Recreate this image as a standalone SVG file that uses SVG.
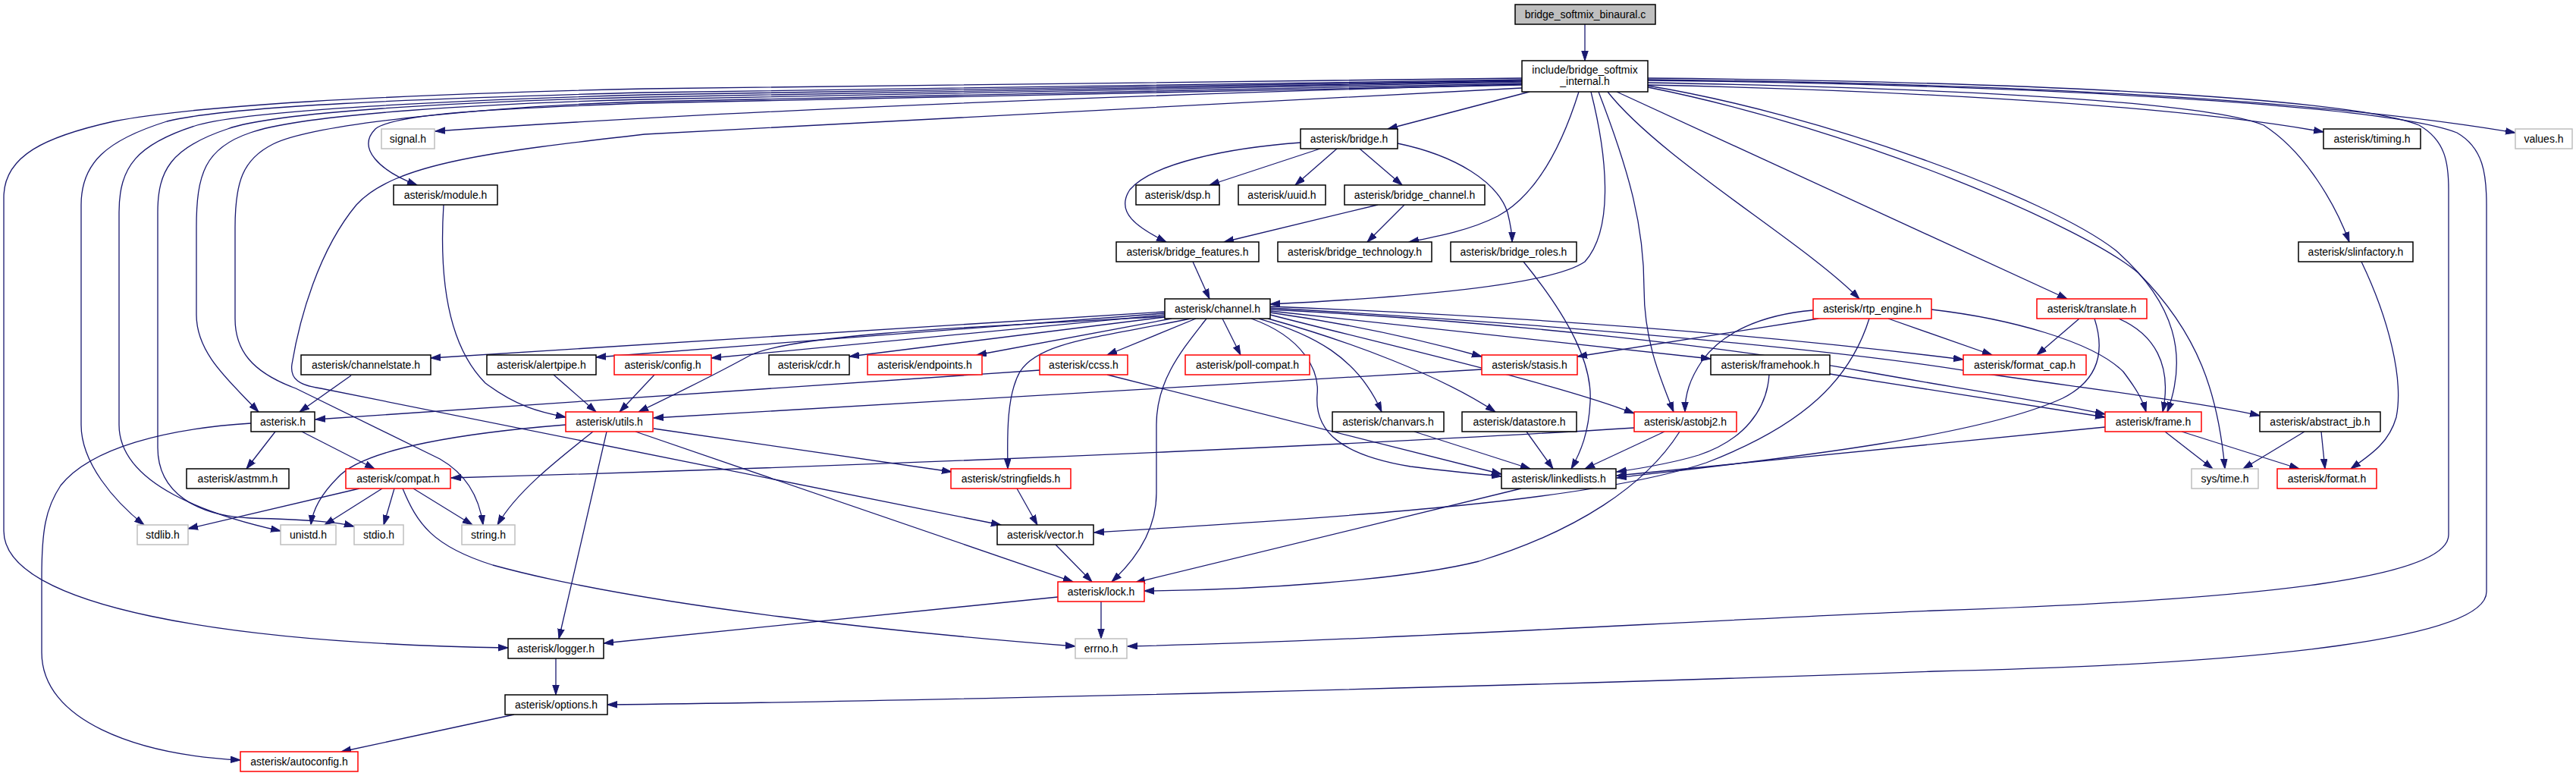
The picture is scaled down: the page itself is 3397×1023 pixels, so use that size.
<svg xmlns="http://www.w3.org/2000/svg" width="3397" height="1023" viewBox="0 0 3397 1023">
<defs>
<style>
.n rect{fill:#fff;stroke-width:1.5}
.blk rect{stroke:#000}
.red rect{stroke:#ff0000}
.gry rect{stroke:#bfbfbf}
.src rect{fill:#bfbfbf;stroke:#000}
text{font-family:"Liberation Sans",Arial,sans-serif;font-size:14px;fill:#000;text-anchor:middle}
.e path{fill:none;stroke:#191970;stroke-width:1.3;marker-end:url(#ah)}
</style>
<marker id="ah" markerWidth="14" markerHeight="10" refX="13" refY="4.75" orient="auto" markerUnits="userSpaceOnUse">
<path d="M0,0.5 L13,4.75 L0,9 z" fill="#191970" stroke="#191970" stroke-width="1"/>
</marker>
</defs>
<rect width="3397" height="1023" fill="#fff"/>
<g id="edges" class="e">
<path d="M2090,32 L2090,80"/>
<path d="M2017,121 L1830,170"/>
<path d="M2082,121 C2062,185 2030,255 1975,285 C1940,303 1895,312 1858,319"/>
<path d="M2098,121 C2118,200 2130,300 2090,345 C2040,380 1800,395 1675,401"/>
<path d="M2108,121 C2150,230 2168,300 2168,380 C2168,450 2190,500 2207,543"/>
<path d="M2120,121 C2190,210 2380,320 2452,394"/>
<path d="M2132,121 L2726,394"/>
<path d="M2173,112 C2450,118 2850,135 3064,174"/>
<path d="M2173,105 C2650,110 3050,130 3317,175"/>
<path d="M2173,109 C2500,115 2900,130 2985,165 C3040,200 3080,270 3098,319"/>
<path d="M2173,103 C2700,108 3100,130 3190,165 C3225,185 3229,215 3229,250 L3229,705 C3229,760 3000,790 2550,805 C2200,820 1800,845 1487,852"/>
<path d="M2173,106 C2700,112 3150,140 3240,175 C3275,195 3279,230 3279,270 L3279,780 C3279,840 3000,875 2550,885 C2000,905 1200,925 801,929"/>
<path d="M2173,113 C2400,150 2700,260 2790,330 C2870,400 2885,470 2858,543"/>
<path d="M2173,115 C2450,170 2750,300 2820,360 C2900,440 2925,520 2934,618"/>
<path d="M2007,103 L850,117 C500,125 250,140 150,160 C60,180 5,205 5,260 L5,700 C5,800 300,848 670,854"/>
<path d="M2007,105 L850,122 C550,130 300,140 220,160 C140,185 107,215 107,270 L107,560 C107,610 150,660 190,692"/>
<path d="M2007,106 L850,125 C600,132 330,145 260,165 C180,190 157,220 157,280 L157,560 C157,640 280,680 370,700"/>
<path d="M2007,107 L850,128 C600,134 360,148 300,170 C225,195 208,225 208,280 L208,590 C208,650 260,680 330,683 C400,685 440,687 467,694"/>
<path d="M2007,108 L850,131 C650,136 400,150 330,175 C270,195 259,230 259,300 L259,415 C259,465 300,500 341,543"/>
<path d="M2007,110 L850,134 C680,139 420,160 360,190 C320,210 310,240 310,300 L310,420 C310,460 330,490 390,512 L580,605 C615,625 632,655 637,692"/>
<path d="M2007,112 L850,136 C650,143 520,150 495,170 C470,195 500,225 550,244"/>
<path d="M2007,111 C1400,128 900,150 574,173"/>
<path d="M2007,116 L850,177 C650,200 520,215 470,270 C420,330 395,420 385,480 C382,500 395,508 423,512 L1320,692"/>
<path d="M1715,188 C1620,195 1520,215 1490,250 C1470,280 1500,300 1538,319"/>
<path d="M1741,196 L1595,244"/>
<path d="M1763,196 L1708,244"/>
<path d="M1793,196 L1849,244"/>
<path d="M1843,189 C1920,205 1975,240 1988,280 C1993,300 1994,310 1994,319"/>
<path d="M1817,270 L1614,319"/>
<path d="M1852,270 L1803,319"/>
<path d="M1573,345 L1595,394"/>
<path d="M2009,345 C2070,420 2100,480 2097,530 C2095,570 2085,595 2072,618"/>
<path d="M1536,411 L568,472"/>
<path d="M1536,413 L786,471"/>
<path d="M1536,415 L938,472"/>
<path d="M1540,417 C1300,430 1050,440 990,468 C950,490 900,515 842,543"/>
<path d="M1536,418 L1120,470"/>
<path d="M1545,420 L1288,468"/>
<path d="M1577,420 L1460,468"/>
<path d="M1612,420 L1636,468"/>
<path d="M1570,420 C1450,445 1370,450 1345,490 C1328,520 1328,570 1329,618"/>
<path d="M1591,420 C1560,460 1525,500 1525,560 L1525,650 C1525,700 1495,740 1466,767"/>
<path d="M1660,420 C1730,440 1790,470 1822,543"/>
<path d="M1650,420 C1720,445 1740,490 1737,520 C1733,570 1770,600 1860,615 C1900,620 1940,624 1980,628"/>
<path d="M1672,420 C1780,450 1900,495 1972,543"/>
<path d="M1675,412 C1800,430 1900,455 1954,470"/>
<path d="M1675,415 C1850,460 2050,505 2155,545"/>
<path d="M1675,410 L2256,473"/>
<path d="M1675,404 Q2200,425 2589,474"/>
<path d="M1675,408 C2000,425 2300,460 2460,490 C2600,515 2700,530 2776,546"/>
<path d="M1675,406 C2100,430 2450,465 2600,490 C2750,512 2900,530 2980,548"/>
<path d="M2413,493 L2776,550"/>
<path d="M2547,408 C2650,420 2760,450 2800,490 C2815,510 2825,525 2830,543"/>
<path d="M2490,420 L2627,468"/>
<path d="M2398,420 L2080,470"/>
<path d="M2391,409 C2320,415 2270,440 2245,475 C2228,500 2222,520 2222,543"/>
<path d="M2465,420 C2440,500 2380,560 2250,610 C2100,660 1800,680 1443,702"/>
<path d="M2742,420 L2686,468"/>
<path d="M2794,420 C2840,440 2865,480 2852,543"/>
<path d="M2762,420 C2775,460 2770,500 2720,525 C2600,580 2300,610 2132,630"/>
<path d="M2776,563 L2132,627"/>
<path d="M2333,494 C2330,540 2300,580 2240,600 C2200,612 2160,618 2132,622"/>
<path d="M2195,569 L2090,618"/>
<path d="M2155,564 C1900,580 1300,610 595,630"/>
<path d="M2215,569 C2170,640 2080,700 1950,740 C1850,765 1650,778 1509,779"/>
<path d="M2006,644 L1497,768"/>
<path d="M1865,569 L2018,618"/>
<path d="M2013,569 L2048,618"/>
<path d="M1460,494 L1980,625"/>
<path d="M1371,488 L416,553"/>
<path d="M1954,487 L862,551"/>
<path d="M730,494 L786,543"/>
<path d="M863,494 L817,543"/>
<path d="M585,270 C580,350 585,450 640,505 C680,535 710,543 746,550"/>
<path d="M463,495 L395,543"/>
<path d="M363,569 L325,618"/>
<path d="M398,569 L494,618"/>
<path d="M331,558 C220,565 120,590 80,640 C60,670 55,700 55,760 L55,860 C55,950 180,995 317,1002"/>
<path d="M474,644 L248,697"/>
<path d="M504,644 L428,692"/>
<path d="M520,644 L506,692"/>
<path d="M545,644 L623,692"/>
<path d="M531,644 C550,690 570,720 650,745 C850,800 1200,835 1418,852"/>
<path d="M746,560 C620,570 480,590 445,630 C420,655 412,675 410,692"/>
<path d="M782,569 C730,610 680,650 656,692"/>
<path d="M800,569 L737,842"/>
<path d="M838,569 L1415,767"/>
<path d="M862,565 L1255,622"/>
<path d="M1341,644 L1368,692"/>
<path d="M1392,718 L1440,767"/>
<path d="M1452,793 L1452,842"/>
<path d="M1395,787 L796,848"/>
<path d="M733,867 L733,916"/>
<path d="M678,942 L450,991"/>
<path d="M2855,569 L2918,618"/>
<path d="M2877,569 L3032,618"/>
<path d="M3039,569 L2958,618"/>
<path d="M3061,569 L3066,618"/>
<path d="M3114,345 C3150,420 3170,500 3160,550 C3150,585 3125,600 3100,618"/>
</g>
<g id="n_src" class="n src"><rect x="1998" y="6" width="185" height="26"/><text x="2090.5" y="24">bridge_softmix_binaural.c</text></g>
<g id="n_internal" class="n blk"><rect x="2007" y="80" width="166" height="41"/><text x="2090" y="97">include/bridge_softmix</text><text x="2090" y="112">_internal.h</text></g>
<g id="n_signal" class="n gry"><rect x="503" y="170" width="70" height="26"/><text x="538" y="188">signal.h</text></g>
<g id="n_bridge" class="n blk"><rect x="1715" y="170" width="128" height="26"/><text x="1779" y="188">asterisk/bridge.h</text></g>
<g id="n_timing" class="n blk"><rect x="3064" y="170" width="128" height="26"/><text x="3128" y="188">asterisk/timing.h</text></g>
<g id="n_values" class="n gry"><rect x="3317" y="170" width="75" height="26"/><text x="3354.5" y="188">values.h</text></g>
<g id="n_module" class="n blk"><rect x="519" y="244" width="137" height="26"/><text x="587.5" y="262">asterisk/module.h</text></g>
<g id="n_dsp" class="n blk"><rect x="1498" y="244" width="110" height="26"/><text x="1553" y="262">asterisk/dsp.h</text></g>
<g id="n_uuid" class="n blk"><rect x="1633" y="244" width="115" height="26"/><text x="1690.5" y="262">asterisk/uuid.h</text></g>
<g id="n_bridge_channel" class="n blk"><rect x="1773" y="244" width="185" height="26"/><text x="1865.5" y="262">asterisk/bridge_channel.h</text></g>
<g id="n_bridge_features" class="n blk"><rect x="1472" y="319" width="188" height="26"/><text x="1566" y="337">asterisk/bridge_features.h</text></g>
<g id="n_bridge_technology" class="n blk"><rect x="1685" y="319" width="203" height="26"/><text x="1786.5" y="337">asterisk/bridge_technology.h</text></g>
<g id="n_bridge_roles" class="n blk"><rect x="1913" y="319" width="166" height="26"/><text x="1996" y="337">asterisk/bridge_roles.h</text></g>
<g id="n_slinfactory" class="n blk"><rect x="3031" y="319" width="151" height="26"/><text x="3106.5" y="337">asterisk/slinfactory.h</text></g>
<g id="n_channel" class="n blk"><rect x="1536" y="394" width="139" height="26"/><text x="1605.5" y="412">asterisk/channel.h</text></g>
<g id="n_rtp_engine" class="n red"><rect x="2391" y="394" width="156" height="26"/><text x="2469" y="412">asterisk/rtp_engine.h</text></g>
<g id="n_translate" class="n red"><rect x="2686" y="394" width="145" height="26"/><text x="2758.5" y="412">asterisk/translate.h</text></g>
<g id="n_channelstate" class="n blk"><rect x="397" y="468" width="171" height="26"/><text x="482.5" y="486">asterisk/channelstate.h</text></g>
<g id="n_alertpipe" class="n blk"><rect x="642" y="468" width="144" height="26"/><text x="714" y="486">asterisk/alertpipe.h</text></g>
<g id="n_config" class="n red"><rect x="810" y="468" width="128" height="26"/><text x="874" y="486">asterisk/config.h</text></g>
<g id="n_cdr" class="n blk"><rect x="1014" y="468" width="106" height="26"/><text x="1067" y="486">asterisk/cdr.h</text></g>
<g id="n_endpoints" class="n red"><rect x="1144" y="468" width="151" height="26"/><text x="1219.5" y="486">asterisk/endpoints.h</text></g>
<g id="n_ccss" class="n red"><rect x="1371" y="468" width="116" height="26"/><text x="1429" y="486">asterisk/ccss.h</text></g>
<g id="n_poll_compat" class="n red"><rect x="1563" y="468" width="164" height="26"/><text x="1645" y="486">asterisk/poll-compat.h</text></g>
<g id="n_stasis" class="n red"><rect x="1954" y="468" width="126" height="26"/><text x="2017" y="486">asterisk/stasis.h</text></g>
<g id="n_framehook" class="n blk"><rect x="2256" y="468" width="157" height="26"/><text x="2334.5" y="486">asterisk/framehook.h</text></g>
<g id="n_format_cap" class="n red"><rect x="2589" y="468" width="162" height="26"/><text x="2670" y="486">asterisk/format_cap.h</text></g>
<g id="n_asterisk" class="n blk"><rect x="331" y="543" width="84" height="26"/><text x="373" y="561">asterisk.h</text></g>
<g id="n_utils" class="n red"><rect x="746" y="543" width="115" height="26"/><text x="803.5" y="561">asterisk/utils.h</text></g>
<g id="n_chanvars" class="n blk"><rect x="1757" y="543" width="147" height="26"/><text x="1830.5" y="561">asterisk/chanvars.h</text></g>
<g id="n_datastore" class="n blk"><rect x="1928" y="543" width="151" height="26"/><text x="2003.5" y="561">asterisk/datastore.h</text></g>
<g id="n_astobj2" class="n red"><rect x="2155" y="543" width="135" height="26"/><text x="2222.5" y="561">asterisk/astobj2.h</text></g>
<g id="n_frame" class="n red"><rect x="2776" y="543" width="127" height="26"/><text x="2839.5" y="561">asterisk/frame.h</text></g>
<g id="n_abstract_jb" class="n blk"><rect x="2980" y="543" width="159" height="26"/><text x="3059.5" y="561">asterisk/abstract_jb.h</text></g>
<g id="n_astmm" class="n blk"><rect x="246" y="618" width="135" height="26"/><text x="313.5" y="636">asterisk/astmm.h</text></g>
<g id="n_compat" class="n red"><rect x="456" y="618" width="138" height="26"/><text x="525" y="636">asterisk/compat.h</text></g>
<g id="n_stringfields" class="n red"><rect x="1254" y="618" width="158" height="26"/><text x="1333" y="636">asterisk/stringfields.h</text></g>
<g id="n_linkedlists" class="n blk"><rect x="1980" y="618" width="151" height="26"/><text x="2055.5" y="636">asterisk/linkedlists.h</text></g>
<g id="n_systime" class="n gry"><rect x="2890" y="618" width="88" height="26"/><text x="2934" y="636">sys/time.h</text></g>
<g id="n_format" class="n red"><rect x="3003" y="618" width="131" height="26"/><text x="3068.5" y="636">asterisk/format.h</text></g>
<g id="n_stdlib" class="n gry"><rect x="181" y="692" width="67" height="26"/><text x="214.5" y="710">stdlib.h</text></g>
<g id="n_unistd" class="n gry"><rect x="370" y="692" width="73" height="26"/><text x="406.5" y="710">unistd.h</text></g>
<g id="n_stdio" class="n gry"><rect x="467" y="692" width="65" height="26"/><text x="499.5" y="710">stdio.h</text></g>
<g id="n_string" class="n gry"><rect x="609" y="692" width="70" height="26"/><text x="644" y="710">string.h</text></g>
<g id="n_vector" class="n blk"><rect x="1315" y="692" width="127" height="26"/><text x="1378.5" y="710">asterisk/vector.h</text></g>
<g id="n_lock" class="n red"><rect x="1395" y="767" width="114" height="26"/><text x="1452" y="785">asterisk/lock.h</text></g>
<g id="n_logger" class="n blk"><rect x="670" y="842" width="126" height="26"/><text x="733" y="860">asterisk/logger.h</text></g>
<g id="n_errno" class="n gry"><rect x="1418" y="842" width="68" height="26"/><text x="1452" y="860">errno.h</text></g>
<g id="n_options" class="n blk"><rect x="666" y="916" width="135" height="26"/><text x="733.5" y="934">asterisk/options.h</text></g>
<g id="n_autoconfig" class="n red"><rect x="317" y="991" width="155" height="26"/><text x="394.5" y="1009">asterisk/autoconfig.h</text></g>
</svg>
